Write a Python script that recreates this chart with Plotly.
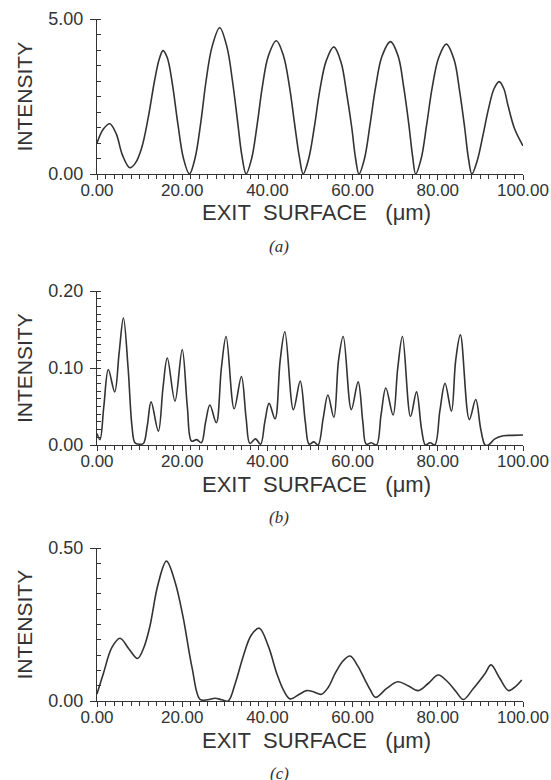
import plotly.graph_objects as go
from plotly.subplots import make_subplots

W, H = 551, 780

# (a) intensity along the exit surface
xa = [0, 1.5, 3.0, 4.5, 6.0, 7.7, 9.0, 10.5, 12.0, 13.5, 14.6, 15.5, 16.5, 17.7, 19.0, 20.3,
      21.7, 23.0, 24.4, 25.6, 27.0, 28.8, 30.5, 31.8, 33.0, 34.0,
      35.0, 36.3, 37.6, 38.8, 40.2, 42.1, 43.8, 45.2, 46.4, 47.5,
      48.4, 49.7, 51.0, 52.3, 53.8, 55.6, 57.3, 58.6, 59.8, 60.7,
      61.5, 62.8, 64.1, 65.4, 66.9, 68.9, 70.7, 72.0, 73.2, 74.1,
      74.8, 76.1, 77.4, 78.7, 80.2, 82.0, 83.8, 85.1, 86.3, 87.2,
      88.0, 89.3, 90.6, 91.9, 93.2, 94.4, 95.5, 96.5, 98.0, 100]
ya = [1.0, 1.45, 1.62, 1.3, 0.6, 0.2, 0.35, 0.85, 1.8, 3.0, 3.7, 3.98, 3.75, 2.9, 1.6, 0.5,
      0.0, 0.5, 1.7, 3.0, 4.1, 4.72, 4.1, 3.0, 1.7, 0.6,
      0.0, 0.5, 1.6, 2.8, 3.8, 4.3, 3.8, 2.8, 1.6, 0.55,
      0.0, 0.5, 1.5, 2.7, 3.65, 4.1, 3.6, 2.6, 1.5, 0.5,
      0.0, 0.5, 1.6, 2.8, 3.8, 4.27, 3.8, 2.8, 1.6, 0.55,
      0.0, 0.5, 1.6, 2.8, 3.75, 4.19, 3.7, 2.7, 1.5, 0.5,
      0.0, 0.45, 1.25, 2.1, 2.75, 2.98, 2.75, 2.2, 1.47, 0.91]

# (b)
xb = [0, 0.7, 1.6, 2.66, 4.15, 5.2, 6.2, 7.3, 8.2, 8.9, 9.9, 10.9, 11.8, 12.7, 14.4, 15.5,
      16.5, 18.3, 20.0, 21.2, 22.2, 23.4, 24.5, 25.5, 26.5, 28.0, 29.2, 30.3, 32.2, 33.9,
      35.0, 35.9, 37.2, 38.4, 39.4, 40.4, 41.8, 43.0, 44.1, 46.1, 47.7, 48.9, 49.8, 50.9,
      51.9, 53.1, 54.2, 55.6, 56.7, 57.8, 59.7, 61.3, 62.4, 63.2, 64.4, 65.6, 66.7, 67.8,
      69.5, 70.6, 71.7, 73.6, 75.0, 76.2, 77.1, 78.2, 79.3, 80.5, 81.7, 83.2, 84.2, 85.3,
      87.4, 88.9, 90.1, 91.1, 91.9, 93.4, 95.4, 97.5, 100]
yb = [0.015, 0.007, 0.05, 0.098, 0.069, 0.12, 0.165, 0.1, 0.025, 0.003, 0.001, 0.002, 0.025, 0.056, 0.018, 0.075,
      0.113, 0.057, 0.124, 0.05, 0.005, 0.007, 0.003, 0.03, 0.052, 0.029, 0.1, 0.141, 0.047, 0.089,
      0.035, 0.002, 0.008, 0.001, 0.03, 0.054, 0.034, 0.11, 0.147, 0.046, 0.083, 0.03, 0.001, 0.004,
      0.0, 0.035, 0.065, 0.036, 0.11, 0.141, 0.046, 0.082, 0.03, 0.001, 0.003, 0.0, 0.04, 0.074,
      0.039, 0.1, 0.141, 0.037, 0.069, 0.02, 0.0, 0.003, 0.0, 0.045, 0.08, 0.044, 0.11, 0.143,
      0.033, 0.059, 0.02, 0.0, 0.0, 0.008, 0.012, 0.0125, 0.013]

# (c)
xc = [0, 1.5, 3.5, 5.4, 7.5, 9.5, 11.0, 12.4, 14.3, 16.3, 18.3, 20.2, 22.3, 24.2, 26.0, 27.7,
      29.3, 30.8, 32.5, 34.3, 36.2, 38.1, 40.2, 42.2, 43.8, 45.3, 47.5, 49.2, 50.8, 52.7,
      54.3, 55.9, 57.7, 59.4, 61.2, 62.9, 64.2, 65.4, 68.0, 70.6, 73.0, 75.4, 77.8, 80.1,
      82.3, 84.3, 86.0, 88.3, 91.1, 92.5, 94.5, 96.6, 98.3, 99.7]
yc = [0.023, 0.09, 0.175, 0.205, 0.17, 0.139, 0.175, 0.243, 0.38, 0.457, 0.39, 0.275, 0.11, 0.005, 0.004, 0.009,
      0.004, 0.0, 0.06, 0.145, 0.215, 0.238, 0.18, 0.09, 0.035, 0.007, 0.022, 0.034, 0.03, 0.022,
      0.045, 0.09, 0.13, 0.147, 0.115, 0.069, 0.035, 0.012, 0.041, 0.063, 0.05, 0.034, 0.058, 0.085,
      0.063, 0.03, 0.005, 0.04, 0.09, 0.118, 0.075, 0.034, 0.048, 0.069]

panels = [
    # x, y, y max, major dtick, minor dtick, plot top px, plot bottom px, label
    (xa, ya, 5.0, 5.0, 0.5, 19, 174, '(a)'),
    (xb, yb, 0.2, 0.1, 0.01, 291, 445, '(b)'),
    (xc, yc, 0.5, 0.5, 0.05, 548, 701, '(c)'),
]

ink = '#333333'
fig = make_subplots(rows=3, cols=1)

x0, x1 = 97, 523
annotations = []
for i, (xs, ys, ymax, dt, mdt, top, bot, lab) in enumerate(panels, start=1):
    fig.add_trace(go.Scatter(x=xs, y=ys, mode='lines',
                             line=dict(color=ink, width=1.6, shape='spline', smoothing=1.0),
                             showlegend=False, hoverinfo='skip'), row=i, col=1)
    fig.update_xaxes(row=i, col=1, range=[0, 100], domain=[x0 / W, x1 / W],
                     tickmode='linear', tick0=0, dtick=20, tickformat='.2f',
                     ticks='outside', ticklen=5, tickwidth=1.2, tickcolor=ink,
                     minor=dict(dtick=2, ticks='outside', ticklen=4, tickwidth=1, tickcolor=ink),
                     showline=True, linecolor=ink, linewidth=1.3, showgrid=False, zeroline=False,
                     automargin=False, ticklabelstandoff=-5,
                     tickfont=dict(size=17, color=ink, family='Liberation Sans, Arial'))
    fig.update_yaxes(row=i, col=1, range=[0, ymax], domain=[1 - bot / H, 1 - top / H],
                     tickmode='linear', tick0=0, dtick=dt, tickformat='.2f',
                     ticks='outside', ticklen=6, tickwidth=1.2, tickcolor=ink,
                     minor=dict(dtick=mdt, ticks='inside', ticklen=4, tickwidth=1, tickcolor=ink),
                     showline=True, linecolor=ink, linewidth=1.3, showgrid=False, zeroline=False,
                     automargin=False, ticklabelstandoff=3,
                     tickfont=dict(size=18, color=ink, family='Liberation Sans, Arial'))
    mid = (top + bot) / 2
    annotations.append(dict(text='INTENSITY', x=24 / W, y=1 - mid / H, xref='paper', yref='paper',
                            showarrow=False, textangle=-90, xanchor='center', yanchor='middle',
                            font=dict(size=21, color=ink, family='Liberation Sans, Arial')))
    annotations.append(dict(text='EXIT\u00a0 SURFACE\u00a0\u00a0 (\u03bcm)', x=316 / W,
                            y=1 - (bot + 39) / H, xref='paper', yref='paper', showarrow=False,
                            xanchor='center', yanchor='middle',
                            font=dict(size=22, color=ink, family='Liberation Sans, Arial')))
    annotations.append(dict(text='<i>' + lab + '</i>', x=279 / W, y=1 - (bot + 72) / H,
                            xref='paper', yref='paper', showarrow=False,
                            xanchor='center', yanchor='middle',
                            font=dict(size=17, color=ink, family='Liberation Serif, Times New Roman')))

fig.update_layout(width=W, height=H, autosize=False,
                  margin=dict(l=0, r=0, t=0, b=0, pad=0, autoexpand=False),
                  paper_bgcolor='white', plot_bgcolor='white',
                  annotations=annotations)

# the page body has a default 8px margin; drop it so the figure fills the window
fig.write_html('out.html', config={'displayModeBar': False},
               post_script="document.body.style.margin='0';document.body.style.overflow='hidden';")
